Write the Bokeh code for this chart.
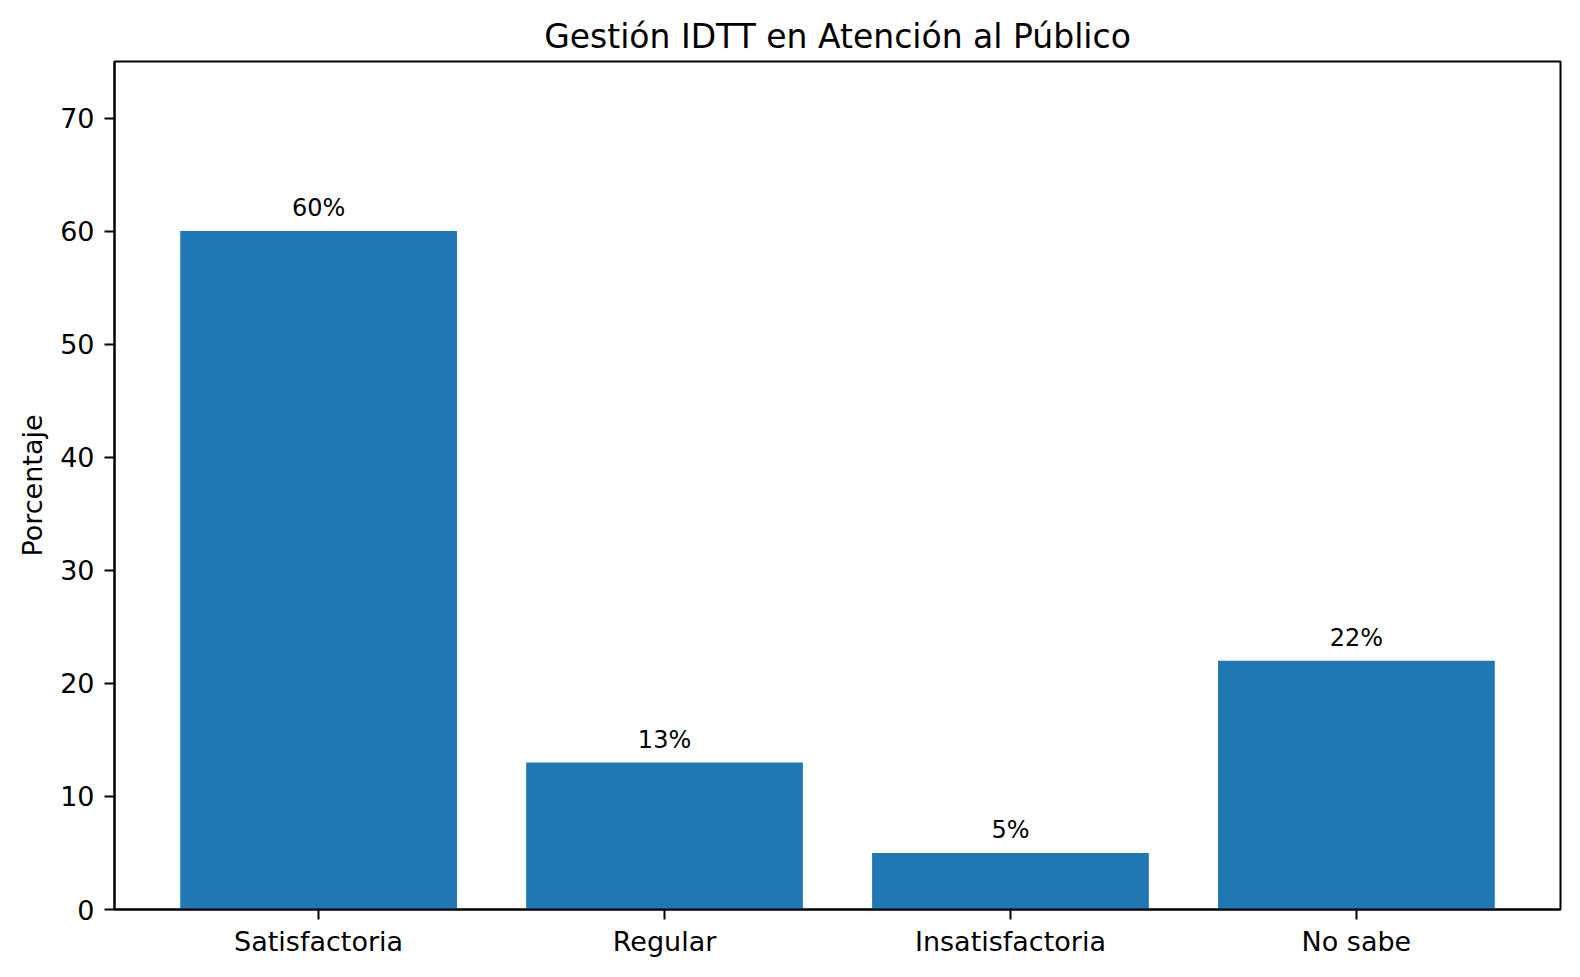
from bokeh.plotting import figure
from bokeh.models import ColumnDataSource, FixedTicker
from bokeh.core.properties import value
from bokeh.embed import file_html
from bokeh.resources import INLINE

categorias = ['Satisfactoria', 'Regular', 'Insatisfactoria', 'No sabe']
porcentajes = [60, 13, 5, 22]
etiquetas = ['60%', '13%', '5%', '22%']
y_ticks = [0, 10, 20, 30, 40, 50, 60, 70]

FONT = 'DejaVu Sans'
x = list(range(len(categorias)))
source = ColumnDataSource(dict(x=x, y=porcentajes, lab=etiquetas))

p = figure(width=1564, height=961, output_backend="svg", toolbar_location=None,
           x_range=(-0.59, 3.59), y_range=(0, 75),
           title="Gestión IDTT en Atención al Público",
           min_border_left=114, min_border_right=4,
           min_border_top=61, min_border_bottom=52)

p.vbar(x='x', top='y', width=0.8, source=source, color='#1f77b4', line_color=None)
p.text(x='x', y='y', text='lab', source=source, text_align='center',
       text_baseline='alphabetic', y_offset=-23, text_font_size='24px',
       text_font=value(FONT), text_color='black')

# titulo
p.title.align = 'center'
p.title.text_font = FONT
p.title.text_font_size = '33px'
p.title.text_font_style = 'normal'
p.title.text_color = 'black'
p.title.standoff = 12

# ejes
p.xaxis.ticker = FixedTicker(ticks=x)
p.xaxis.major_label_overrides = {i: c for i, c in enumerate(categorias)}
p.yaxis.ticker = FixedTicker(ticks=y_ticks)
p.yaxis.axis_label = 'Porcentaje'
for ax in (p.xaxis, p.yaxis):
    ax.axis_line_width = 2
    ax.axis_line_color = 'black'
    ax.major_tick_line_width = 2
    ax.major_tick_line_color = 'black'
    ax.major_tick_out = 10
    ax.major_tick_in = 0
    ax.minor_tick_line_color = None
    ax.major_label_text_font = FONT
    ax.major_label_text_font_size = '27px'
    ax.major_label_text_color = 'black'
    ax.axis_label_text_font = FONT
    ax.axis_label_text_font_size = '27px'
    ax.axis_label_text_font_style = 'normal'
    ax.axis_label_text_color = 'black'
p.xaxis.major_label_standoff = 6
p.yaxis.major_label_standoff = 10
p.yaxis.axis_label_standoff = 9

p.xgrid.grid_line_color = None
p.ygrid.grid_line_color = None
p.outline_line_color = 'black'
p.outline_line_width = 2
p.outline_line_alpha = 1

open("out.html", "w").write(file_html(p, INLINE))
